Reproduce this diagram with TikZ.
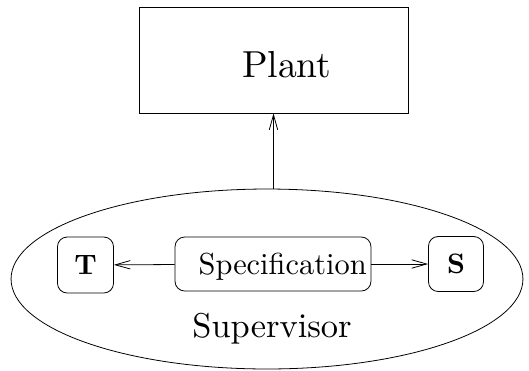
\documentclass[tikz,border=0pt]{standalone}
\usepackage{graphicx}
\usetikzlibrary{arrows.meta,shapes.geometric}

\tikzset{
  plantbox/.style={draw,line width=0.45pt,minimum width=5.38cm,minimum height=2.12cm,inner sep=0pt},
  specbox/.style={draw,line width=0.45pt,rounded corners=5.5pt,minimum height=1.08cm,inner sep=0pt,text depth=0pt},
  supshape/.style={draw,ellipse,line width=0.45pt,minimum width=10.24cm,minimum height=3.6cm,inner sep=0pt},
  flow/.style={line width=0.45pt,-{Straight Barb[length=8.5pt,width=4.8pt]}}
}

\begin{document}
\begin{tikzpicture}[x=0.02cm,y=-0.02cm]
  \useasboundingbox (0,0) rectangle (529,370);
  % plant and supervisor
  \node[plantbox,text height=19.4pt,text depth=0pt] (plant) at (273.5,60) {\hspace{15pt}\scalebox{2.14}{Plant}};
  \node[supshape] (sup) at (267,279) {};
  \node (suplabel) at (272,328.5) {\scalebox{1.96}{Supervisor}};
  % boxes inside the supervisor
  \node[specbox,minimum width=3.92cm] (spec) at (273,264) {\hspace{11pt}\scalebox{1.73}{Specification}};
  \node[specbox,minimum width=1.12cm,minimum height=1.12cm] (tbox) at (85.5,265) {\scalebox{1.6}{\bfseries T}};
  \node[specbox,minimum width=1.1cm,minimum height=1.1cm] (sbox) at (456,264) {\scalebox{1.6}{\bfseries S}};
  \draw[flow] (sup.north -| plant.south) -- (plant.south);
  \draw[flow] (spec) -- (tbox);
  \draw[flow] (spec) -- (sbox);
\end{tikzpicture}
\end{document}
